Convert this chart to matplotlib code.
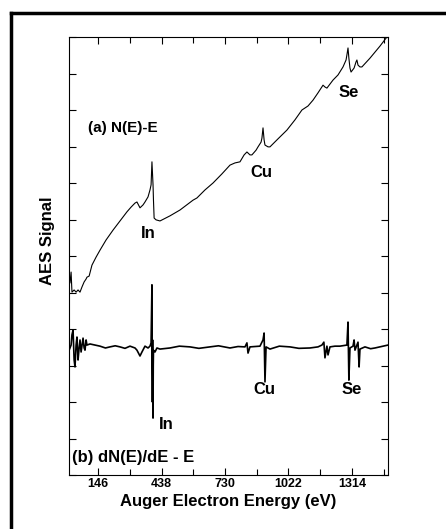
import matplotlib
matplotlib.use("Agg")
from matplotlib import pyplot as plt
from matplotlib.lines import Line2D

plt.rcParams['font.family'] = ['Liberation Sans', 'DejaVu Sans']
plt.rcParams['font.weight'] = 'bold'

# (a) N(E) vs E
ne_energy = [13, 17, 22, 26, 36, 45, 54, 63, 72, 82, 91, 95, 105, 118, 137, 155, 183, 215,
             247, 279, 298, 316, 325, 339, 353, 362, 376, 385, 390, 394, 399, 401, 404, 413,
             431, 477, 523, 583, 601, 638, 675, 716, 753, 776, 799, 818, 831, 845, 854, 873,
             882, 896, 900, 905, 910, 914, 928, 937, 974, 1015, 1052, 1084, 1112, 1135, 1158,
             1181, 1190, 1199, 1213, 1227, 1250, 1273, 1287, 1291, 1296, 1300, 1305, 1310,
             1324, 1333, 1337, 1342, 1351, 1360, 1397, 1443, 1475]
ne_signal = [5.40, 5.26, 5.56, 5.01, 5.07, 5.01, 5.07, 5.01, 5.15, 5.29, 5.37, 5.42, 5.45,
             5.75, 5.97, 6.16, 6.44, 6.71, 6.96, 7.21, 7.34, 7.45, 7.48, 7.32, 7.40, 7.48,
             7.62, 7.81, 7.95, 8.58, 7.95, 7.53, 7.04, 6.99, 6.96, 7.10, 7.26, 7.53, 7.59,
             7.81, 8.00, 8.25, 8.49, 8.55, 8.58, 8.77, 8.85, 8.77, 8.77, 8.90, 8.99, 9.12,
             9.23, 9.51, 9.18, 9.04, 8.99, 8.99, 9.21, 9.45, 9.73, 10.00, 10.11, 10.27,
             10.47, 10.68, 10.63, 10.60, 10.71, 10.82, 10.96, 11.18, 11.37, 11.51, 11.70,
             11.42, 11.15, 11.04, 11.15, 11.32, 11.37, 11.23, 11.18, 11.18, 11.42, 11.75, 12.0]

# (b) dN(E)/dE vs E
dn_energy = [13, 22, 26, 31, 36, 40, 45, 49, 54, 58, 63, 68, 77, 82, 86, 91, 95, 109, 132,
             155, 180, 201, 225, 247, 270, 293, 316, 325, 339, 348, 362, 376, 385, 390, 394,
             396, 397, 399, 400, 401, 408, 417, 431, 477, 520, 569, 610, 661, 700, 753, 790,
             822, 831, 836, 845, 891, 905, 910, 914, 919, 937, 980, 1029, 1070, 1121, 1158,
             1176, 1185, 1190, 1199, 1204, 1213, 1236, 1259, 1291, 1296, 1300, 1305, 1319,
             1324, 1328, 1342, 1347, 1351, 1374, 1400, 1420, 1450, 1480]
dn_signal = [3.42, 3.56, 3.84, 3.97, 3.15, 2.96, 3.56, 3.78, 3.15, 3.42, 3.70, 3.37, 3.75,
             3.48, 3.42, 3.70, 3.56, 3.59, 3.56, 3.53, 3.48, 3.51, 3.54, 3.51, 3.47, 3.53,
             3.48, 3.42, 3.26, 3.37, 3.53, 3.48, 3.53, 3.62, 5.21, 2.00, 3.70, 1.56, 3.00,
             3.42, 3.37, 3.48, 3.45, 3.48, 3.53, 3.51, 3.47, 3.51, 3.54, 3.48, 3.52, 3.51,
             3.62, 3.34, 3.51, 3.53, 3.70, 3.89, 2.55, 3.51, 3.45, 3.53, 3.51, 3.47, 3.48,
             3.51, 3.56, 3.64, 3.21, 3.53, 3.29, 3.51, 3.53, 3.53, 3.56, 4.19, 2.60, 3.48,
             3.53, 3.70, 3.42, 3.64, 2.96, 3.45, 3.51, 3.46, 3.48, 3.52, 3.56]

major_ticks = [146, 438, 730, 1022, 1314]
minor_ticks = [292, 584, 876, 1168, 1460]

fig = plt.figure(figsize=(4.46, 5.29), dpi=100)
ax = fig.add_axes([68.7 / 446, 54 / 529, 319.3 / 446, 438 / 529])

ax.plot(ne_energy, ne_signal, color='black', lw=0.8)
ax.plot(dn_energy, dn_signal, color='black', lw=1.2)

ax.set_xlim(11, 1480)
ax.set_ylim(0, 12)
ax.set_xticks(major_ticks)
ax.set_xticks(minor_ticks, minor=True)
ax.set_yticks(range(0, 13))
ax.set_yticklabels([])
ax.tick_params(which='both', direction='in', top=True, right=True, width=0.8)
ax.tick_params(which='major', length=5, labelsize=9, pad=2)
ax.tick_params(which='minor', length=4)
for lab in ax.get_xticklabels():
    lab.set_fontweight('bold')
for s in ax.spines.values():
    s.set_linewidth(0.8)

ax.set_xlabel('Auger Electron Energy (eV)', fontsize=12, fontweight='bold', labelpad=3)
ax.set_ylabel('AES Signal', fontsize=12, fontweight='bold')
ax.yaxis.set_label_coords(-0.043, 0.534)

ax.text(100, 9.51, '(a) N(E)-E', fontsize=11, fontweight='bold', ha='left', va='center')
ax.text(26, 0.49, '(b) dN(E)/dE - E', fontsize=12, fontweight='bold', ha='left', va='center')
ax.text(376, 6.63, 'In', fontsize=12, fontweight='bold', ha='center', va='center')
ax.text(896, 8.30, 'Cu', fontsize=12, fontweight='bold', ha='center', va='center')
ax.text(1300, 10.47, 'Se', fontsize=12, fontweight='bold', ha='center', va='center')
ax.text(459, 1.37, 'In', fontsize=12, fontweight='bold', ha='center', va='center')
ax.text(910, 2.33, 'Cu', fontsize=12, fontweight='bold', ha='center', va='center')
ax.text(1314, 2.33, 'Se', fontsize=12, fontweight='bold', ha='center', va='center')

# scan frame, only left and top edges are in view
fig.add_artist(Line2D([10.5 / 446, 10.5 / 446], [0, 1 - 12.5 / 529], color='black', lw=2.5))
fig.add_artist(Line2D([10.5 / 446, 1], [1 - 12.5 / 529, 1 - 12.5 / 529], color='black', lw=2.5))

fig.savefig('out.png', dpi=100)
